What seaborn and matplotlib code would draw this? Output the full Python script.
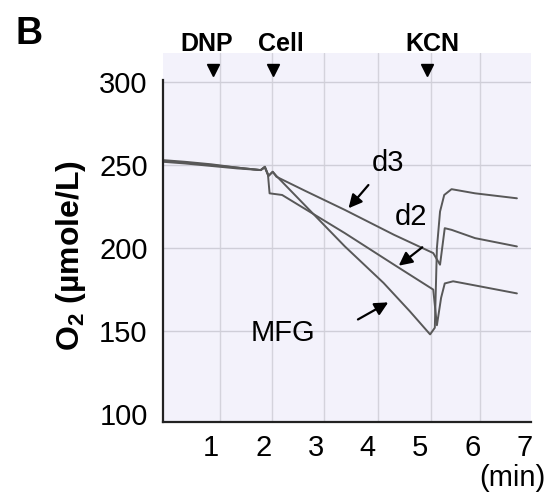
import numpy as np
import pandas as pd
import seaborn as sns
import matplotlib
matplotlib.use("Agg")
import matplotlib.pyplot as plt

# ---- data ----
t_d3 = [0.08, 0.5, 1.0, 1.5, 1.95, 2.03, 2.10, 2.18, 2.25, 2.8, 3.56, 4.5, 5.25, 5.38, 5.47, 5.6, 6.05, 6.85]
o2_d3 = [252.5, 251.5, 250, 248.5, 247, 249, 243.5, 246, 243, 234.5, 223, 208, 197, 190, 212, 211, 206, 201]

t_d2 = [0.08, 0.5, 1.0, 1.5, 1.95, 2.03, 2.09, 2.12, 2.36, 3.56, 4.5, 5.25, 5.32, 5.40, 5.47, 5.63, 6.05, 6.85]
o2_d2 = [252, 251, 249.5, 248, 247, 248.5, 244, 233, 232, 209, 190, 175, 153.5, 170, 178.7, 180, 177.5, 172.7]

t_mfg = [0.08, 0.5, 1.0, 1.5, 1.95, 2.03, 2.10, 2.18, 2.25, 3.56, 4.3, 4.8, 5.19, 5.28, 5.32, 5.38, 5.46, 5.6, 6.05, 6.85]
o2_mfg = [253, 252, 250.5, 248.5, 247, 249, 243.5, 246, 243.5, 201, 179, 162, 148, 152, 200, 222, 232, 235.5, 233, 230]

x_ticks = [1, 2, 3, 4, 5, 6, 7]
y_ticks = [100, 150, 200, 250, 300]
events = ["DNP", "Cell", "KCN"]
event_times = [1.04, 2.18, 5.14]
event_label_x = [0.92, 2.34, 5.23]

df = pd.concat([
    pd.DataFrame({"t": t_d3, "o2": o2_d3, "series": "d3"}),
    pd.DataFrame({"t": t_d2, "o2": o2_d2, "series": "d2"}),
    pd.DataFrame({"t": t_mfg, "o2": o2_mfg, "series": "MFG"}),
])

sns.set_theme(style="white")
plt.rcParams["font.family"] = ["Liberation Sans", "DejaVu Sans"]
plt.rcParams["mathtext.fontset"] = "custom"
plt.rcParams["mathtext.rm"] = "Liberation Sans"
plt.rcParams["mathtext.bf"] = "Liberation Sans:bold"
plt.rcParams["text.color"] = "black"
plt.rcParams["axes.labelcolor"] = "black"

fig = plt.figure(figsize=(5.52, 4.96), dpi=100)
fig.patch.set_facecolor("white")
ax = fig.add_axes([0.2953, 0.1498, 0.6667, 0.7432])
ax.set_facecolor("#f3f2fb")

# chart-paper grid
for gx in [1.17, 2.17, 3.16, 4.2, 5.2, 6.15]:
    ax.axvline(gx, color="#d4d3dc", lw=1.0, zorder=0)
for gy in [150, 200, 250, 300]:
    ax.axhline(gy, color="#cfced8", lw=1.0, zorder=0)

sns.lineplot(data=df, x="t", y="o2", units="series", estimator=None, sort=False,
             color="#585858", lw=1.4, ax=ax, legend=False)

ax.set_xlim(0.082, 7.12)
ax.set_ylim(95.4, 317.5)
ax.set_xticks(x_ticks)
ax.set_yticks(y_ticks)
ax.tick_params(axis="both", length=0, labelsize=21, colors="black")
ax.tick_params(axis="y", pad=11)
ax.tick_params(axis="x", pad=9)
ax.set_xlabel("")
ax.set_ylabel("O$_\\mathbf{2}$ (µmole/L)", fontsize=23, fontweight="bold", color="black")
ax.yaxis.set_label_coords(-0.205, 0.45)

for s in ["top", "right"]:
    ax.spines[s].set_visible(False)
for s in ["left", "bottom"]:
    ax.spines[s].set_color("#222222")
    ax.spines[s].set_linewidth(1.6)
ax.spines["left"].set_bounds(95.4, 301.5)

# event markers
for name, et, lx in zip(events, event_times, event_label_x):
    ax.plot([et], [307.5], marker="v", color="black", markersize=9, clip_on=False, zorder=5)
    ax.text(lx, 315.5, name, ha="center", va="bottom", fontsize=18, fontweight="bold",
            color="black", family=["Liberation Sans Narrow", "Liberation Sans"], clip_on=False)

# annotations
arrow = dict(arrowstyle="-|>", color="black", lw=1.6, mutation_scale=20, shrinkA=0, shrinkB=0)
ax.annotate("", xy=(3.63, 224), xytext=(4.01, 238), arrowprops=arrow)
ax.annotate("", xy=(4.59, 189.4), xytext=(5.04, 200.5), arrowprops=arrow)
ax.annotate("", xy=(4.39, 167.3), xytext=(3.81, 157), arrowprops=arrow)
ax.text(4.39, 251, "d3", ha="center", va="center", fontsize=21, color="black")
ax.text(4.82, 219, "d2", ha="center", va="center", fontsize=21, color="black")
ax.text(2.38, 149, "MFG", ha="center", va="center", fontsize=21, color="black")

fig.text(512 / 552, 1 - 478 / 496, "(min)", ha="center", va="center", fontsize=21, color="black")
fig.text(29 / 552, 1 - 34 / 496, "B", ha="center", va="center", fontsize=27,
         fontweight="bold", color="black")

fig.savefig("out.png", dpi=100)
